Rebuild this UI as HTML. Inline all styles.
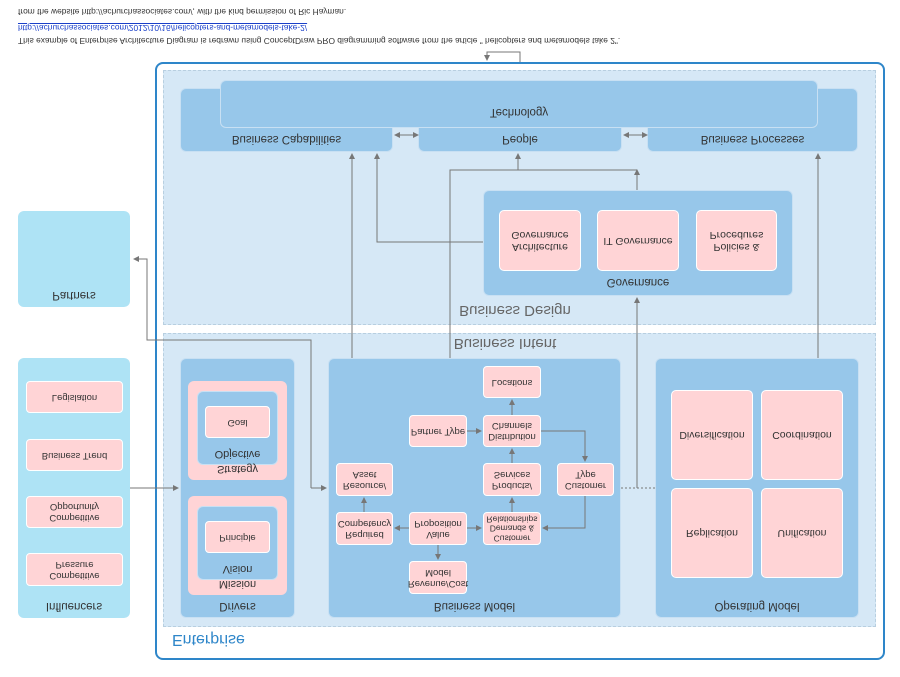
<!DOCTYPE html>
<html><head><meta charset="utf-8"><style>
body{margin:0;width:900px;height:677px;background:#fff;position:relative;overflow:hidden;font-family:"Liberation Sans",sans-serif}
.a{position:absolute;box-sizing:border-box}
.b{display:flex;align-items:center;justify-content:center;text-align:center}
.f{display:inline-block;transform:scaleY(-1)}
.m{background:#97c7ea;border:1px solid #c8e0f3;border-radius:6px}
.p{background:#ffd4d6;border:1px solid #fff;border-radius:4px;font-size:9.5px;color:#333;line-height:11px}
.pl{background:#ffd4d6;border:1px solid #fff;border-radius:5px;font-size:10.5px;color:#333;line-height:12px}
.lab{position:absolute;font-size:11.5px;color:#333;text-align:center}
.t{position:absolute;font-size:8.4px;color:#333;white-space:nowrap}
</style></head><body>
<div class="t" style="left:18px;top:7px"><span class="f">from the website http://achurchassociates.com/, with the kind permission of Ric Hayman.</span></div>
<div class="t" style="left:18px;top:23px;color:#1a3fc9"><span class="f" style="text-decoration:underline">http://achurchassociates.com/2012/10/16/helicopters-and-metamodels-take-2/</span></div>
<div class="t" style="left:18px;top:36px"><span class="f">This example of Enterprise Architecture Diagram is redrawn using ConceptDraw PRO diagramming software from the article " helicopters and metamodels take 2".</span></div>

<div class="a" style="left:155px;top:62px;width:730px;height:598px;border:2px solid #2e86c9;border-radius:8px"></div>
<div class="a" style="left:163px;top:70px;width:713px;height:255px;background:#d6e8f6;border:1px dashed #b8cfe0"></div>
<div class="a" style="left:163px;top:333px;width:713px;height:294px;background:#d6e8f6;border:1px dashed #b8cfe0"></div>
<div class="lab" style="left:172px;top:630px;font-size:16px;color:#2e86c9"><span class="f">Enterprise</span></div>
<div class="lab" style="left:435px;top:302px;width:160px;font-size:15px;color:#666"><span class="f">Business Design</span></div>
<div class="lab" style="left:435px;top:335px;width:140px;font-size:15px;color:#666"><span class="f">Business Intent</span></div>

<div class="a m" style="left:180px;top:88px;width:213px;height:64px"></div>
<div class="a m" style="left:647px;top:88px;width:211px;height:64px"></div>
<div class="a m" style="left:418px;top:100px;width:204px;height:52px"></div>
<div class="a m" style="left:220px;top:80px;width:598px;height:48px"></div>
<div class="lab" style="left:220px;top:106px;width:598px"><span class="f">Technology</span></div>
<div class="lab" style="left:180px;top:133px;width:213px"><span class="f">Business Capabilities</span></div>
<div class="lab" style="left:418px;top:133px;width:204px"><span class="f">People</span></div>
<div class="lab" style="left:647px;top:133px;width:211px"><span class="f">Business Processes</span></div>

<div class="a m" style="left:483px;top:190px;width:310px;height:106px"></div>
<div class="lab" style="left:483px;top:276px;width:310px"><span class="f">Governance</span></div>
<div class="a pl b" style="left:499px;top:210px;width:82px;height:61px"><span class="f">Architecture<br>Governance</span></div>
<div class="a pl b" style="left:597px;top:210px;width:82px;height:61px"><span class="f">IT Governance</span></div>
<div class="a pl b" style="left:696px;top:210px;width:81px;height:61px"><span class="f">Policies &amp;<br>Procedures</span></div>

<div class="a" style="left:18px;top:211px;width:112px;height:96px;background:#aee3f5;border-radius:6px"></div>
<div class="lab" style="left:18px;top:289px;width:112px"><span class="f">Partners</span></div>
<div class="a" style="left:18px;top:358px;width:112px;height:260px;background:#aee3f5;border-radius:6px"></div>
<div class="lab" style="left:18px;top:600px;width:112px"><span class="f">Influencers</span></div>
<div class="a p b" style="left:26px;top:381px;width:97px;height:32px"><span class="f">Legislation</span></div>
<div class="a p b" style="left:26px;top:439px;width:97px;height:32px"><span class="f">Business Trend</span></div>
<div class="a p b" style="left:26px;top:496px;width:97px;height:32px"><span class="f">Competitive<br>Opportunity</span></div>
<div class="a p b" style="left:26px;top:553px;width:97px;height:33px"><span class="f">Competitive<br>Pressure</span></div>

<div class="a m" style="left:180px;top:358px;width:115px;height:260px"></div>
<div class="lab" style="left:180px;top:600px;width:115px"><span class="f">Drivers</span></div>
<div class="a" style="left:188px;top:381px;width:99px;height:99px;background:#ffd4d6;border-radius:6px"></div>
<div class="a m" style="left:197px;top:391px;width:81px;height:74px"></div>
<div class="a p b" style="left:205px;top:406px;width:65px;height:32px"><span class="f">Goal</span></div>
<div class="lab" style="left:188px;top:463px;width:99px;font-size:11px"><span class="f">Strategy</span></div>
<div class="lab" style="left:197px;top:448px;width:81px;font-size:11px"><span class="f">Objective</span></div>
<div class="a" style="left:188px;top:496px;width:99px;height:99px;background:#ffd4d6;border-radius:6px"></div>
<div class="a m" style="left:197px;top:506px;width:81px;height:74px"></div>
<div class="a p b" style="left:205px;top:521px;width:65px;height:32px"><span class="f">Principle</span></div>
<div class="lab" style="left:188px;top:578px;width:99px;font-size:11px"><span class="f">Mission</span></div>
<div class="lab" style="left:197px;top:563px;width:81px;font-size:11px"><span class="f">Vision</span></div>

<div class="a m" style="left:328px;top:358px;width:293px;height:260px"></div>
<div class="lab" style="left:328px;top:600px;width:293px"><span class="f">Business Model</span></div>
<div class="a p b" style="left:483px;top:366px;width:58px;height:32px"><span class="f">Locations</span></div>
<div class="a p b" style="left:409px;top:415px;width:58px;height:32px"><span class="f">Partner Type</span></div>
<div class="a p b" style="left:483px;top:415px;width:58px;height:32px"><span class="f">Distribution<br>Channels</span></div>
<div class="a p b" style="left:336px;top:463px;width:57px;height:33px"><span class="f">Resource/<br>Asset</span></div>
<div class="a p b" style="left:483px;top:463px;width:58px;height:33px"><span class="f">Products/<br>Services</span></div>
<div class="a p b" style="left:557px;top:463px;width:57px;height:33px"><span class="f">Customer<br>Type</span></div>
<div class="a p b" style="left:336px;top:512px;width:57px;height:33px"><span class="f">Required<br>Competency</span></div>
<div class="a p b" style="left:409px;top:512px;width:58px;height:33px"><span class="f">Value<br>Proposition</span></div>
<div class="a p b" style="left:483px;top:512px;width:58px;height:33px;font-size:8.5px;line-height:9.5px"><span class="f">Customer<br>Demands &amp;<br>Relationships</span></div>
<div class="a p b" style="left:409px;top:561px;width:58px;height:33px"><span class="f">Revenue/Cost<br>Model</span></div>

<div class="a m" style="left:655px;top:358px;width:204px;height:260px"></div>
<div class="lab" style="left:655px;top:600px;width:204px"><span class="f">Operating Model</span></div>
<div class="a pl b" style="left:671px;top:390px;width:82px;height:90px"><span class="f">Diversification</span></div>
<div class="a pl b" style="left:761px;top:390px;width:82px;height:90px"><span class="f">Coordination</span></div>
<div class="a pl b" style="left:671px;top:488px;width:82px;height:90px"><span class="f">Replication</span></div>
<div class="a pl b" style="left:761px;top:488px;width:82px;height:90px"><span class="f">Unification</span></div>

<svg class="a" style="left:0;top:0" width="900" height="677">
<defs><marker id="ar" markerWidth="6" markerHeight="6" refX="5" refY="3" orient="auto"><path d="M0,0L6,3L0,6z" fill="#777"/></marker></defs>
<g stroke="#777" stroke-width="1" fill="none" marker-end="url(#ar)">
<path d="M520,62V52H487V60"/>
<path d="M352,358V154"/>
<path d="M450,358V170H518V154"/>
<path d="M637,190V170"/>
<path d="M483,242H377V154"/>
<path d="M818,358V154"/>
<path d="M637,488V298"/>
<path d="M130,488H178"/>
<path d="M311,488V340H147V259H134"/>
<path d="M311,488H326"/>
<path d="M405,135H418"/><path d="M405,135H395"/>
<path d="M634,135H647"/><path d="M634,135H624"/>
<path d="M512,415V400"/>
<path d="M467,431H481"/>
<path d="M512,463V449"/>
<path d="M541,431H585V461"/>
<path d="M585,496V528H543"/>
<path d="M512,512V498"/>
<path d="M467,528H481"/>
<path d="M409,528H395"/>
<path d="M364,512V498"/>
<path d="M438,545V559"/>
</g>
<path d="M621,488H655" stroke="#777" stroke-dasharray="2,2"/>
<path d="M637,170H450" stroke="#777"/>
</svg>
</body></html>
